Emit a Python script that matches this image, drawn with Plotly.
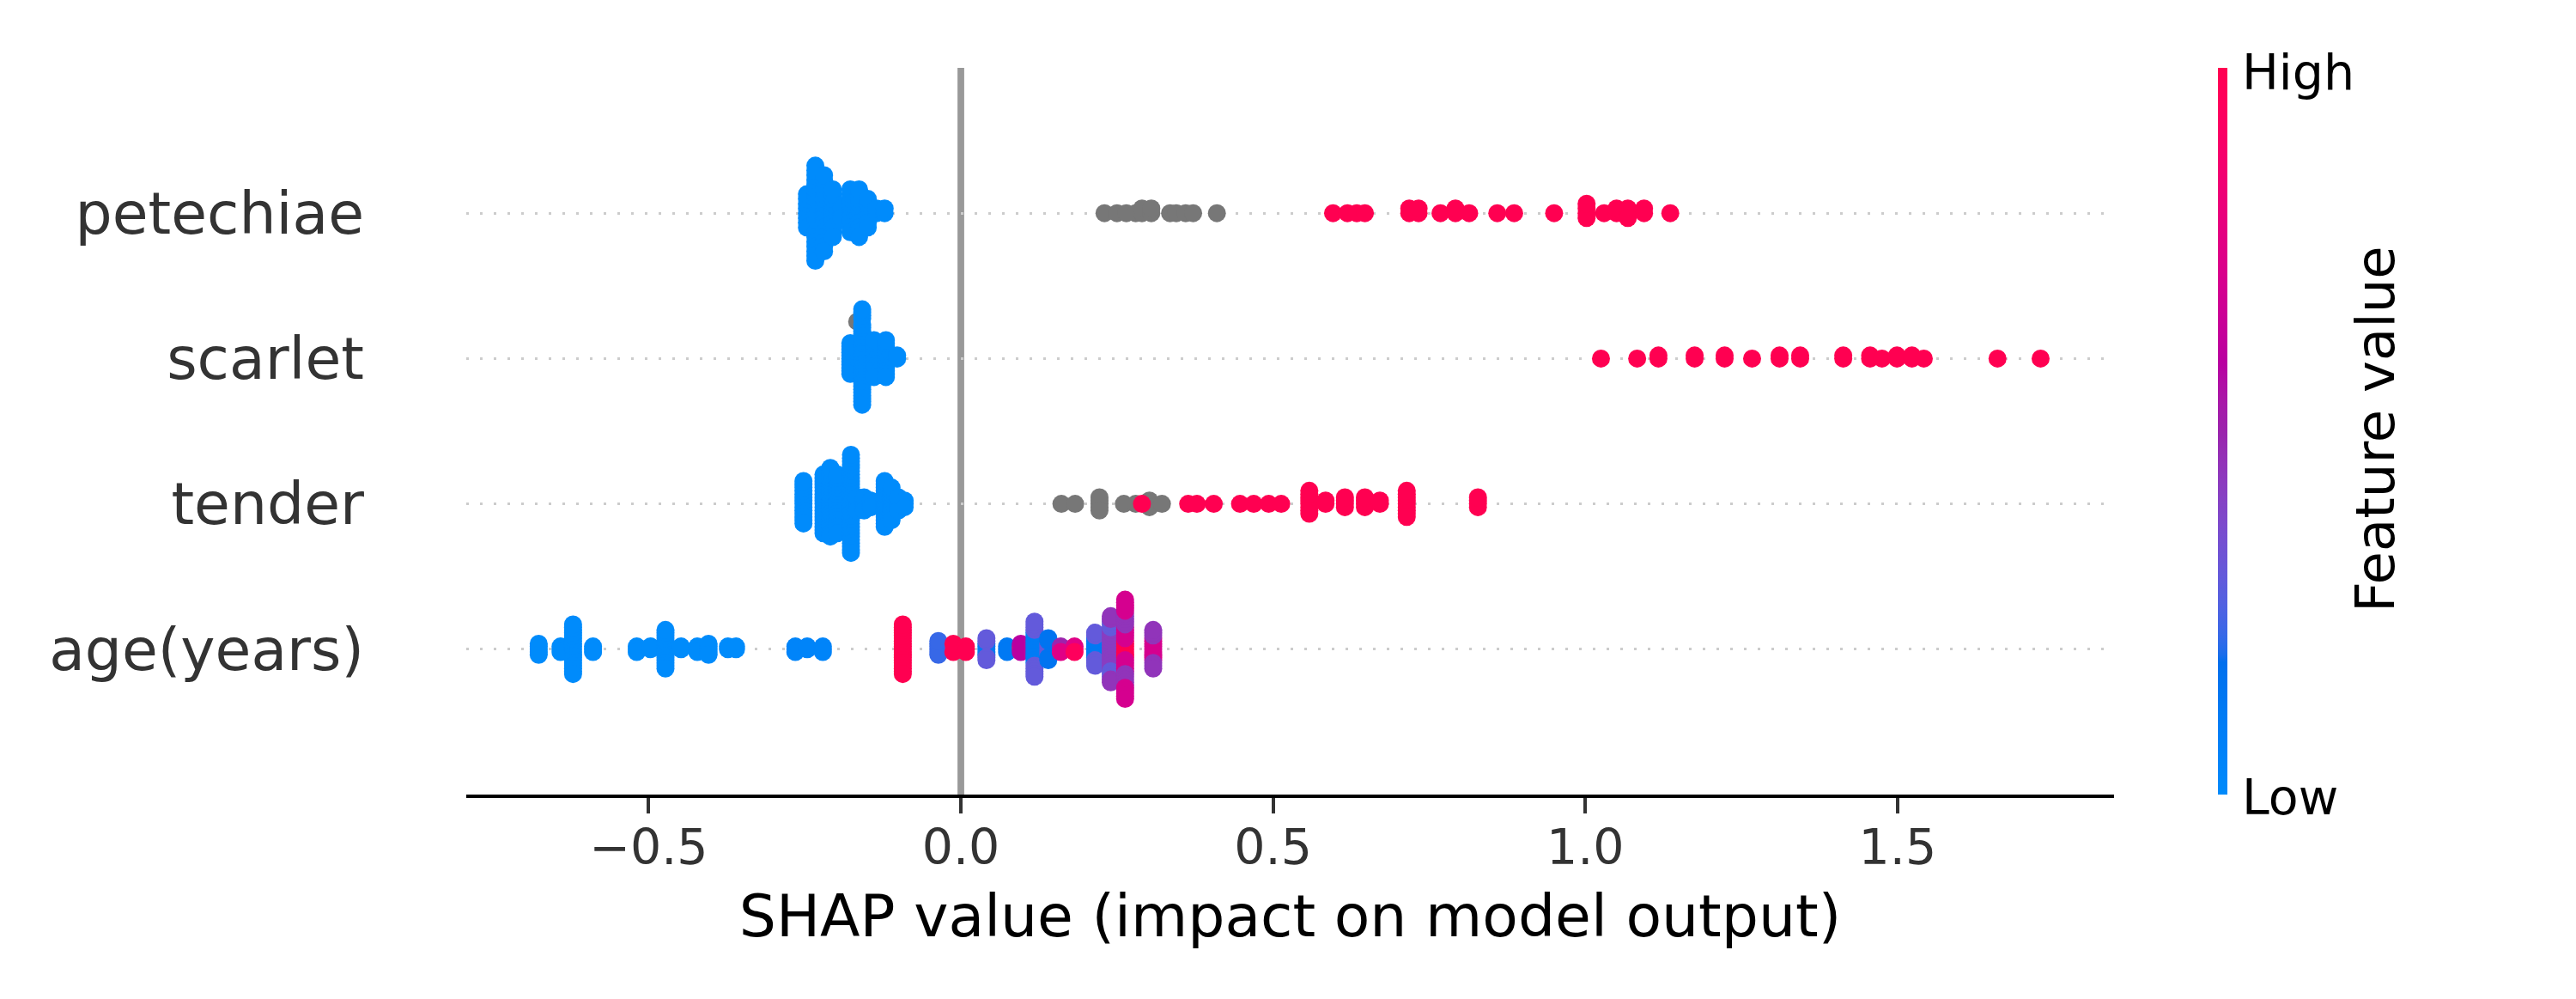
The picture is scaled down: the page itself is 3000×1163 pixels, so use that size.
import numpy as np
import plotly.graph_objects as go

# ---------------- data ----------------
FEATURES = ["age(years)", "tender", "scarlet", "petechiae"]  # bottom -> top
X_TICKS = [-0.5, 0.0, 0.5, 1.0, 1.5]
X_TICK_TEXT = ["\u22120.5", "0.0", "0.5", "1.0", "1.5"]

# petechiae: SHAP value, number of samples, normalised feature value (None = missing)
PET_X = [-0.2465, -0.233, -0.219, -0.205, -0.191, -0.177, -0.163, -0.149, -0.135, -0.122,
         0.230, 0.250, 0.265, 0.280, 0.290, 0.305, 0.335, 0.345, 0.360, 0.372, 0.410,
         0.596, 0.619, 0.634, 0.647, 0.718, 0.733, 0.768, 0.792, 0.814, 0.859, 0.886, 0.950,
         1.002, 1.030, 1.050, 1.068, 1.094, 1.136]
PET_N = [8, 21, 17, 11, 3, 10, 11, 7, 2, 2,
         1, 1, 1, 1, 2, 2, 1, 1, 1, 1, 1,
         1, 1, 1, 1, 2, 2, 1, 2, 1, 1, 1, 1,
         4, 1, 2, 3, 2, 1]
PET_V = [0, 0, 0, 0, 0, 0, 0, 0, 0, 0,
         None, None, None, None, None, None, None, None, None, None, None,
         1, 1, 1, 1, 1, 1, 1, 1, 1, 1, 1, 1,
         1, 1, 1, 1, 1, 1]

# scarlet
SCA_X = [-0.177, -0.158, -0.166, -0.158, -0.139, -0.120, -0.102,
         1.025, 1.083, 1.117, 1.175, 1.223, 1.267, 1.311, 1.344, 1.413, 1.456, 1.475,
         1.499, 1.523, 1.542, 1.660, 1.729]
SCA_N = [11, 23, 1, 8, 13, 13, 2,
         1, 1, 2, 2, 2, 1, 2, 2, 2, 2, 1,
         2, 2, 1, 1, 1]
SCA_V = [0, 0, None, 0, 0, 0, 0,
         1, 1, 1, 1, 1, 1, 1, 1, 1, 1, 1,
         1, 1, 1, 1, 1]

# tender
TEN_X = [-0.252, -0.220, -0.209, -0.198, -0.176, -0.166, -0.155, -0.144, -0.122, -0.111, -0.100, -0.090,
         0.161, 0.183, 0.222, 0.261, 0.280, 0.302, 0.322,
         0.290, 0.364, 0.378, 0.405, 0.447, 0.469, 0.493, 0.513, 0.558, 0.584, 0.615, 0.647,
         0.671, 0.714, 0.828]
TEN_N = [14, 19, 22, 19, 31, 5, 5, 3, 15, 11, 5, 3,
         1, 1, 5, 1, 1, 3, 1,
         1, 1, 1, 1, 1, 1, 1, 1, 8, 2, 4, 4,
         2, 9, 4]
TEN_V = [0, 0, 0, 0, 0, 0, 0, 0, 0, 0, 0, 0,
         None, None, None, None, None, None, None,
         1, 1, 1, 1, 1, 1, 1, 1, 1, 1, 1, 1,
         1, 1, 1]

# age(years)
AGE_X = [-0.676, -0.641, -0.621, -0.589, -0.519, -0.497, -0.473, -0.448, -0.422, -0.404,
         -0.373, -0.360, -0.265, -0.246, -0.221,
         -0.093,
         -0.036, -0.012, -0.012, 0.008, 0.041, 0.041, 0.074, 0.096, 0.096,
         0.118, 0.118, 0.140, 0.140, 0.160, 0.160, 0.182, 0.182, 0.215, 0.215,
         0.240, 0.240, 0.240, 0.263, 0.263, 0.263, 0.263, 0.308, 0.308]
AGE_N = [5, 3, 19, 3, 3, 2, 15, 2, 3, 5,
         2, 2, 3, 2, 3,
         19,
         6, 2, 2, 3, 5, 4, 3, 2, 2,
         12, 9, 5, 4, 2, 1, 2, 1, 8, 5,
         15, 6, 4, 7, 10, 10, 10, 9, 6]
AGE_V = [0.0, 0.0, 0.0, 0.0, 0.0, 0.0, 0.0, 0.0, 0.0, 0.0,
         0.0, 0.0, 0.05, 0.05, 0.05,
         1.0,
         0.22, 0.25, 1.0, 1.0, 0.12, 0.3, 0.12, 0.95, 0.6,
         0.1, 0.3, 0.3, 0.15, 0.5, 0.75, 0.75, 0.95, 0.12, 0.3,
         0.42, 0.3, 0.45, 1.0, 0.7, 0.45, 0.7, 0.7, 0.45]

ROWS = [(AGE_X, AGE_N, AGE_V), (TEN_X, TEN_N, TEN_V), (SCA_X, SCA_N, SCA_V), (PET_X, PET_N, PET_V)]


# ---------------- SHAP red-blue colormap (Lch interpolation) ----------------
def lch2rgb(L, C, H):
    a = C * np.cos(H)
    b = C * np.sin(H)
    fy = (L + 16.0) / 116.0
    fx = fy + a / 500.0
    fz = fy - b / 200.0

    def finv(t):
        return t ** 3 if t > 0.2068966 else (t - 16.0 / 116.0) / 7.787

    xyz = np.array([0.95047 * finv(fx), 1.0 * finv(fy), 1.08883 * finv(fz)])
    m = np.linalg.inv(np.array([[0.412453, 0.357580, 0.180423],
                                [0.212671, 0.715160, 0.072169],
                                [0.019334, 0.119193, 0.950227]]))
    rgb = m @ xyz
    out = np.where(rgb > 0.0031308, 1.055 * np.power(np.clip(rgb, 1e-12, None), 1 / 2.4) - 0.055, 12.92 * rgb)
    return np.clip(out, 0, 1)


blue_lch = [54.0, 70.0, 4.6588]
red_lch = [54.0, 90.0, 0.35470565 + 2 * np.pi]
nsteps = 100
l_vals = list(np.linspace(blue_lch[0], 40.0, nsteps // 2)) + list(np.linspace(40.0, red_lch[0], nsteps // 2))
c_vals = np.linspace(blue_lch[1], red_lch[1], nsteps)
h_vals = np.linspace(blue_lch[2], red_lch[2], nsteps)
COLORSCALE = []
for pos, l, c, h in zip(np.linspace(0, 1, nsteps), l_vals, c_vals, h_vals):
    r, g, b = lch2rgb(l, c, h)
    COLORSCALE.append([float(pos), "rgb(%d,%d,%d)" % (round(r * 255), round(g * 255), round(b * 255))])


# ---------------- beeswarm layout (SHAP summary algorithm) ----------------
def swarm_offsets(x, row_height=0.4, nbins=100):
    x = np.asarray(x, float)
    quant = np.round(nbins * (x - x.min()) / (x.max() - x.min() + 1e-8))
    inds = np.argsort(quant, kind="stable")
    layer, last = 0, None
    ys = np.zeros(len(x))
    for i in inds:
        if quant[i] != last:
            layer = 0
        ys[i] = np.ceil(layer / 2) * ((layer % 2) * 2 - 1)
        layer += 1
        last = quant[i]
    ys *= 0.9 * (row_height / np.max(ys + 1))
    return ys


fig = go.Figure()
MARKER_PX = 21
first_colored = True
for pos, (gx, gn, gv) in enumerate(ROWS):
    xs = np.repeat(np.asarray(gx, float), gn)
    vs = np.repeat(np.array([np.nan if v is None else v for v in gv], float), gn)
    ys = pos + swarm_offsets(xs)
    nan_mask = np.isnan(vs)
    if nan_mask.any():
        fig.add_trace(go.Scatter(
            x=xs[nan_mask], y=ys[nan_mask], mode="markers",
            marker=dict(size=MARKER_PX, color="#777777", line=dict(width=0)),
            hoverinfo="x", showlegend=False))
    ok = ~nan_mask
    marker = dict(size=MARKER_PX, color=vs[ok], colorscale=COLORSCALE, cmin=0, cmax=1,
                  line=dict(width=0), showscale=first_colored)
    if first_colored:
        marker["colorbar"] = dict(
            x=(2583 - 543) / 1919, xanchor="left", xpad=0, ypad=0,
            y=0.5, yanchor="middle", len=1.0, lenmode="fraction",
            thickness=11, thicknessmode="pixels", outlinewidth=0,
            showticklabels=False, ticks="")
    fig.add_trace(go.Scatter(x=xs[ok], y=ys[ok], mode="markers", marker=marker,
                             hoverinfo="x", showlegend=False))
    first_colored = False

# vertical zero line
fig.add_shape(type="line", x0=0, x1=0, y0=0, y1=1, xref="x", yref="paper",
              line=dict(color="#999999", width=7.8), layer="below")

FONT = "DejaVu Sans"
fig.update_layout(
    width=3000, height=1163,
    margin=dict(l=543, r=538, t=79, b=238, autoexpand=False),
    plot_bgcolor="white", paper_bgcolor="white",
    showlegend=False,
    font=dict(family=FONT, color="#333333"),
    xaxis=dict(
        range=[-0.792, 1.8466], tickvals=X_TICKS, ticktext=X_TICK_TEXT,
        ticks="outside", ticklen=18, tickwidth=3.5, tickcolor="#333333",
        tickfont=dict(family=FONT, size=57, color="#333333"),
        ticklabelstandoff=-9,
        showline=True, linecolor="black", linewidth=4,
        showgrid=False, zeroline=False, automargin=False,
        title=dict(text="SHAP value (impact on model output)",
                   font=dict(family=FONT, size=68, color="black"), standoff=25),
    ),
    yaxis=dict(
        range=[-1, 4], tickvals=[0, 1, 2, 3], ticktext=FEATURES,
        tickfont=dict(family=FONT, size=68, color="#333333"),
        ticks="", ticklabelstandoff=118, automargin=False,
        showgrid=True, gridcolor="#cccccc", gridwidth=2.6, griddash="3px,13px",
        zeroline=False, showline=False,
    ),
    annotations=[
        dict(text="High", x=(2609 - 543) / 1919, y=(925 - 84) / 846, xref="paper", yref="paper",
             xanchor="left", yanchor="middle", showarrow=False,
             font=dict(family=FONT, size=57, color="black")),
        dict(text="Low", x=(2609 - 543) / 1919, y=(925 - 928) / 846, xref="paper", yref="paper",
             xanchor="left", yanchor="middle", showarrow=False,
             font=dict(family=FONT, size=57, color="black")),
        dict(text="Feature value", x=(2766 - 543) / 1919, y=(925 - 500) / 846, xref="paper", yref="paper",
             xanchor="center", yanchor="middle", textangle=-90, showarrow=False,
             font=dict(family=FONT, size=62.5, color="black")),
    ],
)

fig.write_html("out.html", config={"displayModeBar": False},
               post_script="document.body.style.margin='0';document.body.style.overflow='hidden';")
